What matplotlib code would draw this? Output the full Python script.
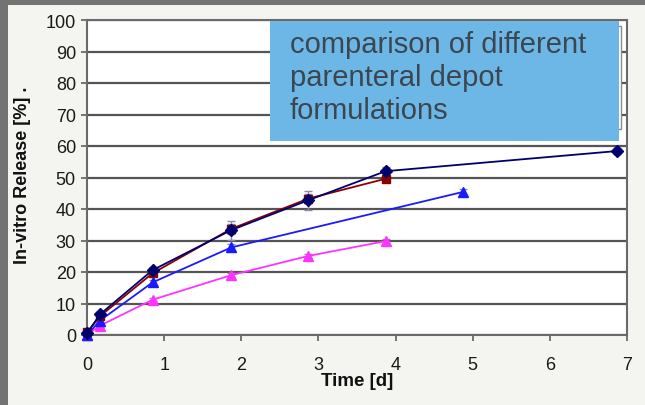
import matplotlib
matplotlib.use("Agg")
import matplotlib.pyplot as plt
from matplotlib.patches import Rectangle

plt.rcParams['font.family'] = ['Liberation Sans', 'DejaVu Sans']

# ---- data ----
x_navy = [0.0, 0.17, 0.85, 1.87, 2.87, 3.87, 6.87]
y_navy = [0.5, 6.6, 20.6, 33.3, 42.8, 52.0, 58.4]
e_navy = [0.5, 0.8, 1.0, 3.0, 3.0, 1.2, 1.0]

x_red = [0.0, 0.17, 0.85, 1.87, 2.87, 3.87]
y_red = [0.8, 6.0, 19.6, 33.7, 43.3, 49.6]
e_red = [0.3, 0.5, 0.8, 1.5, 1.5, 0.8]

x_blue = [0.0, 0.17, 0.85, 1.87, 4.87]
y_blue = [0.0, 4.6, 16.7, 27.8, 45.4]
e_blue = [0.3, 0.5, 0.8, 1.2, 1.0]

x_mag = [0.0, 0.17, 0.85, 1.87, 2.87, 3.87]
y_mag = [0.0, 3.0, 11.2, 19.0, 25.1, 29.8]
e_mag = [0.2, 0.4, 0.5, 0.6, 0.6, 0.8]

x_ticks = [0, 1, 2, 3, 4, 5, 6, 7]
y_ticks = [0, 10, 20, 30, 40, 50, 60, 70, 80, 90, 100]
box_lines = ["comparison of different", "parenteral depot", "formulations"]

fig = plt.figure(figsize=(6.45, 4.06), dpi=100, facecolor='#f4f4f0')
# dark frame strips on top and left
fig.patches.append(Rectangle((0, 1 - 6/406), 1, 6/406, transform=fig.transFigure,
                             facecolor='#737373', edgecolor='none', zorder=0))
fig.patches.append(Rectangle((0, 0), 8/645, 1, transform=fig.transFigure,
                             facecolor='#737373', edgecolor='none', zorder=0))

ax = fig.add_axes([87/645, 1 - 336/406, 540/645, 315/406])
ax.set_facecolor('white')
ax.set_xlim(0, 7)
ax.set_ylim(0, 100)
ax.set_xticks(x_ticks)
ax.set_yticks(y_ticks)
ax.grid(axis='y', color='#555555', linewidth=1.6, zorder=1)
ax.set_axisbelow(True)
for s in ax.spines.values():
    s.set_color('#6a6a6a')
    s.set_linewidth(1.5)
ax.tick_params(axis='both', colors='#6a6a6a', labelcolor='#1a1a1a', labelsize=13,
               length=4, width=1.3)
ax.tick_params(axis='x', pad=11)
ax.tick_params(axis='y', pad=4)

errc = '#8a8aa8'
series = [
    (x_mag, y_mag, e_mag, '#ff33ff', '^', 6.5),
    (x_blue, y_blue, e_blue, '#1a1aff', '^', 6.5),
    (x_red, y_red, e_red, '#8b0000', 's', 6),
    (x_navy, y_navy, e_navy, '#00006e', 'D', 6),
]
for xs, ys, es, c, m, ms in series:
    ax.errorbar(xs, ys, yerr=es, fmt='none', ecolor=errc, elinewidth=1.0,
                capsize=3, capthick=1.0, zorder=3)
    ax.plot(xs, ys, color=c, marker=m, markersize=ms, linewidth=1.3,
            markeredgecolor=c, zorder=4, clip_on=False)

ax.set_xlabel('Time [d]', fontsize=13.5, fontweight='bold', color='#111111')
ax.xaxis.set_label_coords(0.5, -0.118)
ax.set_ylabel('In-vitro Release [%] .', fontsize=13, fontweight='bold', color='#111111')
ax.yaxis.set_label_coords(-0.104, 0.51)

# legend box hidden behind the text box
ax.add_patch(Rectangle((0.55, 0.654), 0.989 - 0.55, 0.981 - 0.654, transform=ax.transAxes,
                       facecolor='white', edgecolor='#8a8a8a', linewidth=1.0, zorder=5))
# blue annotation box
ax.add_patch(Rectangle((0.339, 0.616), 0.985 - 0.339, 0.997 - 0.616, transform=ax.transAxes,
                       facecolor='#6db7e7', edgecolor='none', zorder=6))
for i, (ln, yb) in enumerate(zip(box_lines, [0.898, 0.794, 0.689])):
    ax.text(0.376, yb, ln, transform=ax.transAxes, fontsize=21, color='#3b4750',
            va='baseline', ha='left', zorder=7)

fig.savefig('out.png', dpi=100, facecolor=fig.get_facecolor())
